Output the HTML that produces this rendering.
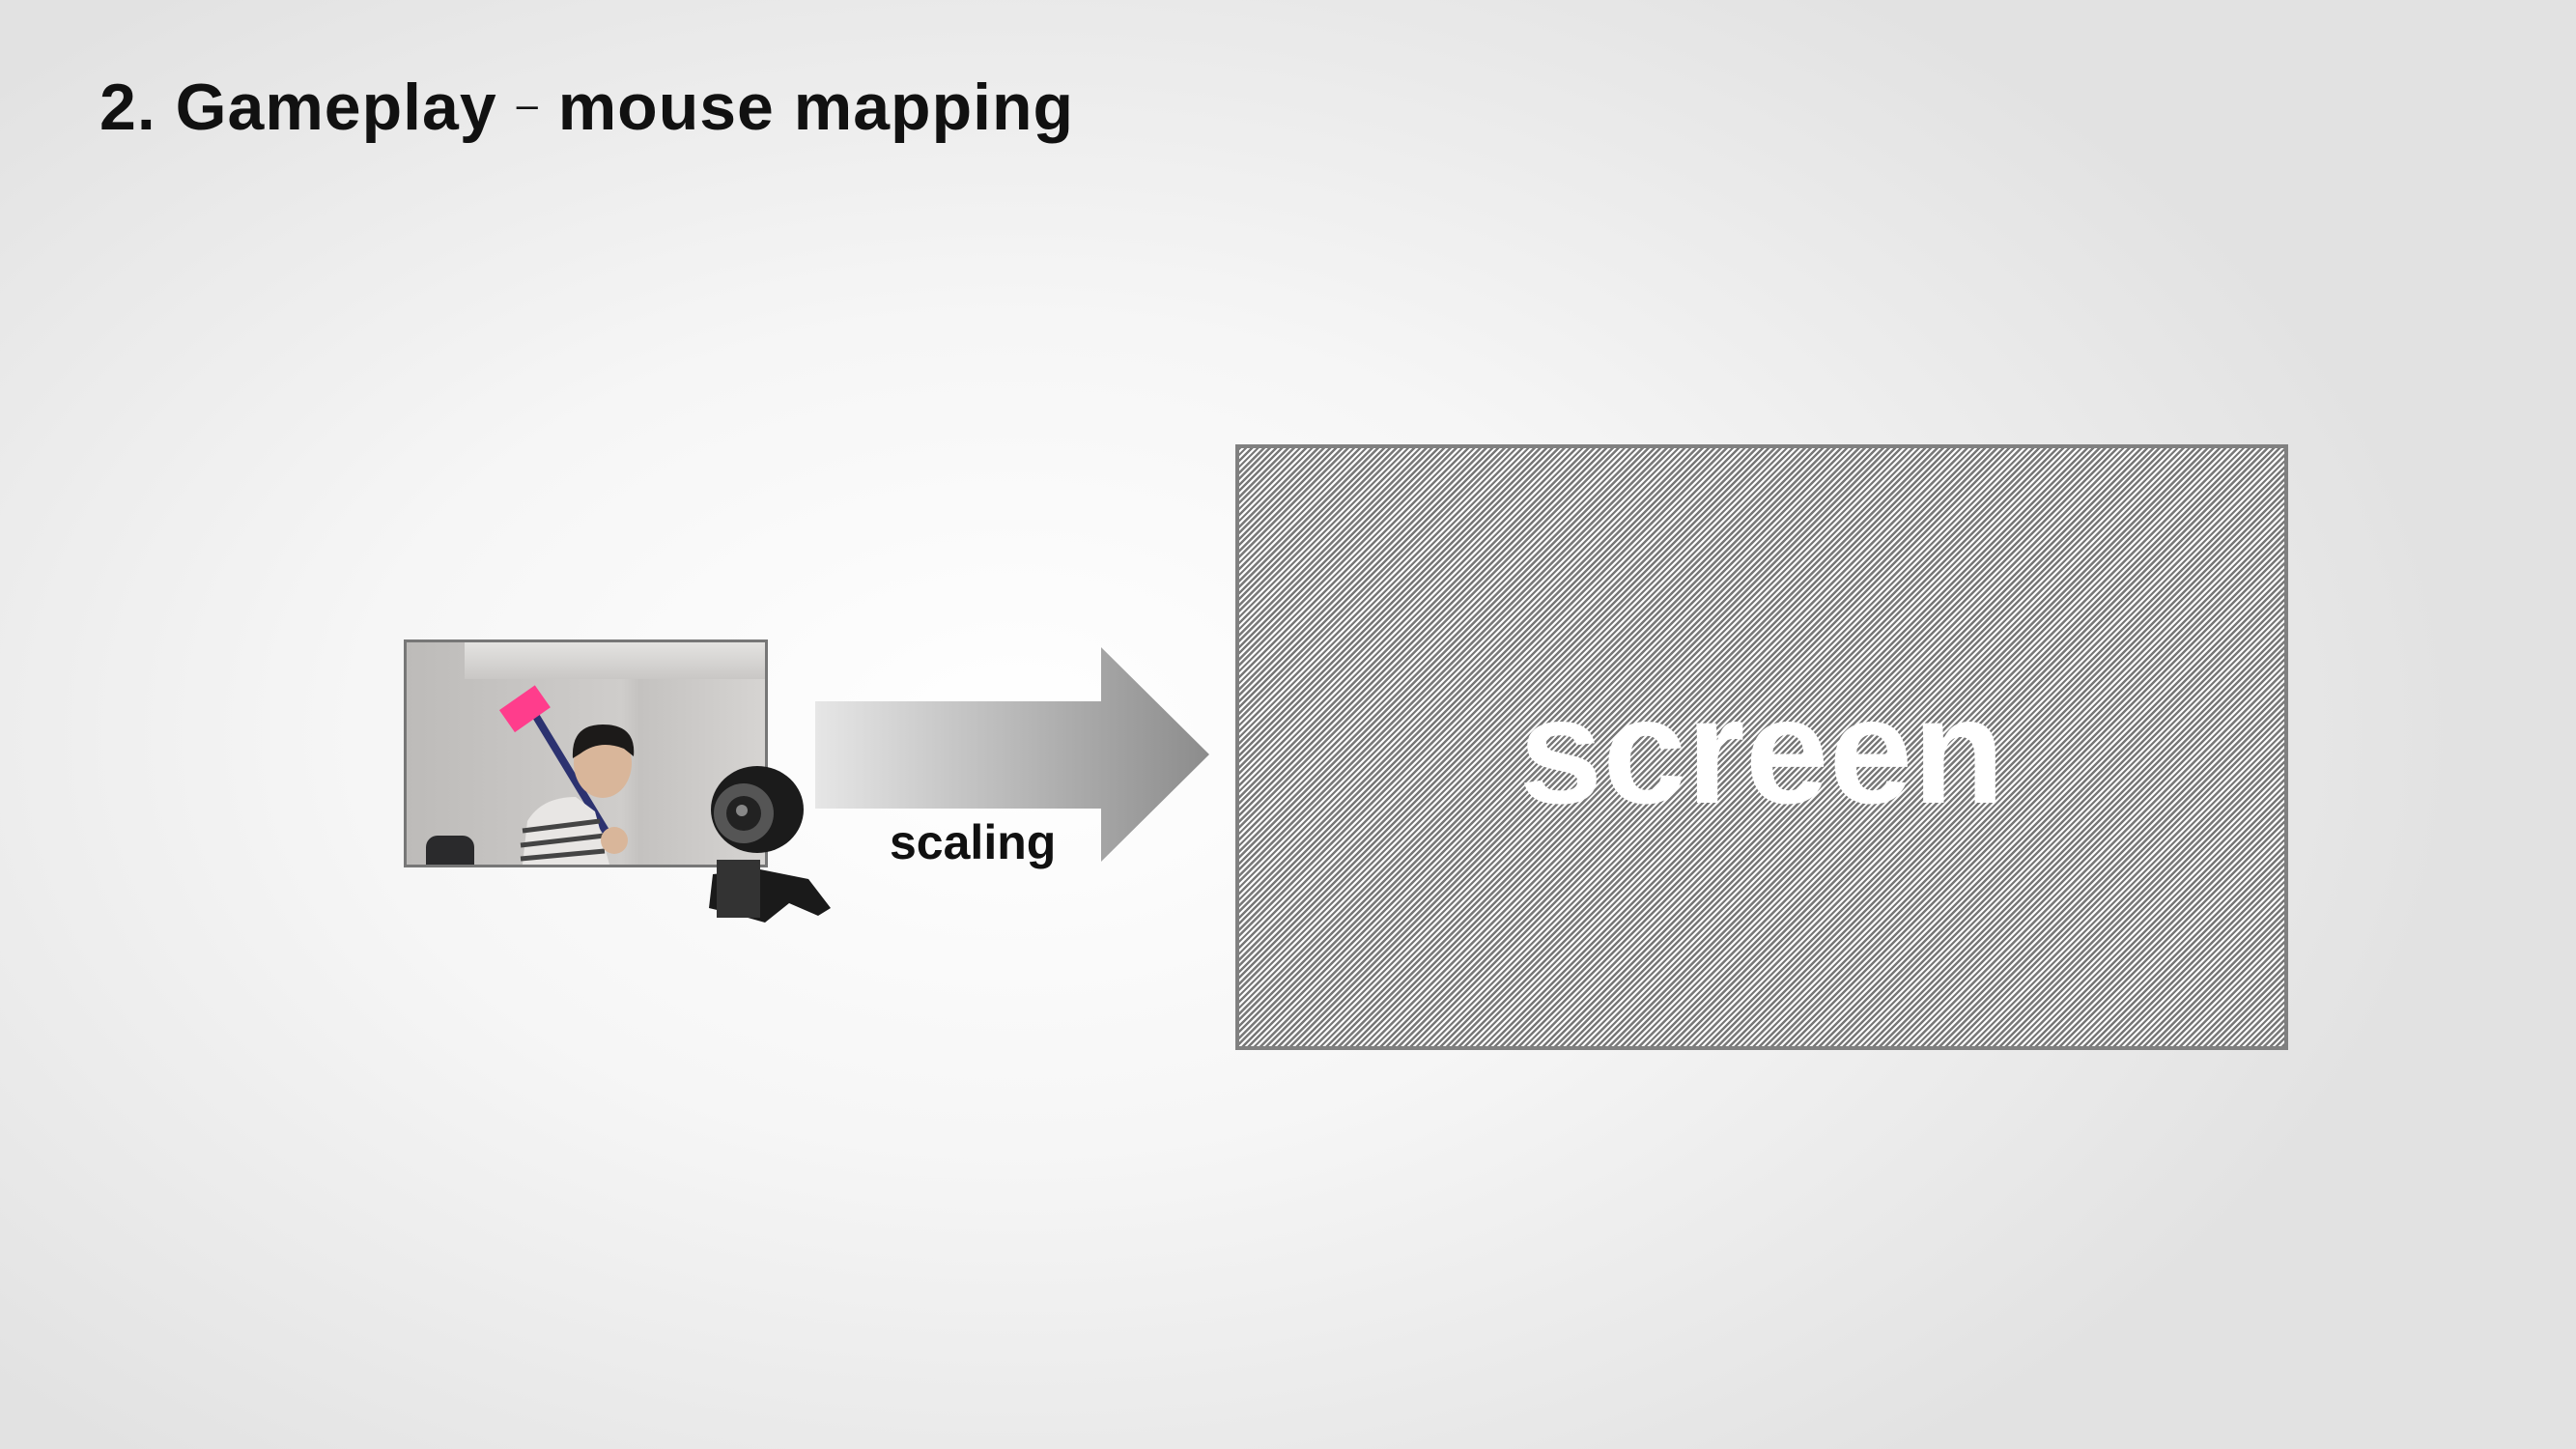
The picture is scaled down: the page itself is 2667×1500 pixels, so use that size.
<!DOCTYPE html>
<html><head><style>
html,body{margin:0;padding:0}
body{width:2667px;height:1500px;position:relative;overflow:hidden;
background:radial-gradient(ellipse 1500px 950px at 1050px 760px,#ffffff 0%,#f6f6f6 45%,#e2e2e2 100%);
font-family:"Liberation Sans","DejaVu Sans",sans-serif;}
.abs{position:absolute}
</style></head><body>
<div class="abs" style="left:103px;top:72px;font-size:68px;font-weight:bold;color:#111;white-space:nowrap;letter-spacing:1px">2. Gameplay <span style="font-weight:normal;font-size:40px;vertical-align:12px">–</span> mouse mapping</div>

<!-- photo -->
<div class="abs" style="left:418px;top:662px;width:371px;height:230px;border:3px solid #777;overflow:hidden;background:linear-gradient(90deg,#bdbbb9 0%,#cfcdcb 60%,#c4c2c0 65%,#d6d4d2 100%)">
  <div class="abs" style="left:60px;top:0;width:320px;height:38px;background:linear-gradient(180deg,#e4e3e1,#c9c7c5);"></div>
  <div class="abs" style="left:20px;top:200px;width:50px;height:30px;background:#2a2a2c;border-radius:12px 12px 0 0"></div>
  <svg class="abs" style="left:0;top:0" width="371" height="230">
    <line x1="130" y1="70" x2="212" y2="205" stroke="#2c3270" stroke-width="8"/>
    <rect x="100" y="55" width="45" height="28" fill="#ff3d8c" transform="rotate(-35 122 69)"/>
    <path d="M120 230 L125 185 Q140 160 175 160 L195 175 L210 230 Z" fill="#e8e6e4"/>
    <g stroke="#444" stroke-width="5"><line x1="120" y1="195" x2="200" y2="185"/><line x1="118" y1="210" x2="205" y2="200"/><line x1="118" y1="224" x2="205" y2="216"/></g>
    <ellipse cx="203" cy="125" rx="30" ry="36" fill="#d9b69a"/>
    <path d="M172 120 Q170 85 203 85 Q238 85 235 118 L225 110 Q200 100 180 115 Z" fill="#1c1a19"/>
    <circle cx="215" cy="205" r="14" fill="#d9b69a"/>
  </svg>
</div>
<!-- webcam -->
<svg class="abs" style="left:732px;top:790px" width="135" height="170">
  <path d="M6 115 L55 110 L105 120 L128 150 L115 158 L85 145 L60 165 L35 158 L2 150 Z" fill="#1a1a1a"/>
  <rect x="10" y="100" width="45" height="60" fill="#333"/>
  <ellipse cx="52" cy="48" rx="48" ry="45" fill="#1b1b1b"/>
  <ellipse cx="38" cy="52" rx="31" ry="31" fill="#555"/>
  <ellipse cx="38" cy="52" rx="18" ry="18" fill="#222"/>
  <ellipse cx="36" cy="49" rx="6" ry="6" fill="#888"/>
</svg>

<!-- arrow -->
<svg class="abs" style="left:840px;top:665px" width="420" height="232">
  <defs><linearGradient id="g" x1="0" x2="1"><stop offset="0" stop-color="#e6e6e6"/><stop offset="1" stop-color="#8c8c8c"/></linearGradient></defs>
  <path d="M4 61 L300 61 L300 5 L412 116 L300 227 L300 172 L4 172 Z" fill="url(#g)"/>
</svg>
<div class="abs" style="left:921px;top:843px;font-size:50px;font-weight:bold;color:#111">scaling</div>

<!-- screen -->
<div class="abs" style="left:1279px;top:460px;width:1082px;height:619px;border:4px solid #808080;
background:repeating-linear-gradient(-45deg,#787878 0px,#787878 2.4px,#ffffff 2.4px,#ffffff 4.4px);"></div>
<div class="abs" style="left:1279px;top:688px;width:1090px;text-align:center;font-size:156px;font-weight:bold;color:#fff;line-height:180px;letter-spacing:0px">screen</div>
</body></html>
